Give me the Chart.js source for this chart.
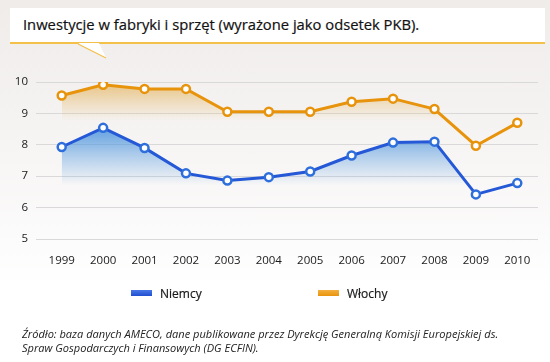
<!DOCTYPE html>
<html>
<head>
<meta charset="utf-8">
<script src="https://cdn.jsdelivr.net/npm/chart.js@4.4.1/dist/chart.umd.min.js"></script>
<style>
    html, body { margin: 0; padding: 0; }
    body {
        width: 550px; height: 362px; position: relative; overflow: hidden;
        background: linear-gradient(to bottom, #efecea 0px, #f5f3f2 120px, #ffffff 290px);
        font-family: "Open Sans", sans-serif; color: #222;
    }
    #titleBox {
        position: absolute; left: 10px; top: 8px; width: 535px; height: 34px;
        background: #fff; border-bottom: 2px solid #f3c14a; box-sizing: content-box;
    }
    #titleBox span {
        position: absolute; left: 13px; top: 6px; font-size: 14.75px; color: #111;
        -webkit-text-stroke: 0.2px #111;
    }
    #pointer { position: absolute; left: 0; top: 0; }
    #chartWrap { position: absolute; left: 0; top: 0; width: 550px; height: 362px; }
    .legendItem { position: absolute; top: 285px; font-size: 12px; color: #1a1a1a; }
    .legendItem i { position: absolute; top: 5px; left: 0; width: 21px; height: 6px; }
    .legendItem b { position: absolute; left: 29px; top: 0; font-weight: normal; white-space: nowrap; -webkit-text-stroke: 0.2px #1a1a1a; }
    #source {
        position: absolute; left: 22px; top: 327px; font-size: 11.05px; font-style: italic;
        line-height: 14px; color: #222;
    }
</style>
</head>
<body>
<div id="titleBox"><span>Inwestycje w fabryki i sprzęt (wyrażone jako odsetek PKB).</span></div>
<svg id="pointer" width="550" height="70">
    <polygon points="78,43 99,43 106,58" fill="#fff" />
    <line x1="78" y1="44" x2="106" y2="58" stroke="#f3c14a" stroke-width="1.2" />
</svg>
<div id="chartWrap"><canvas id="investChart"></canvas></div>
<div id="legend"></div>
<div id="source">Źródło: baza danych AMECO, dane publikowane przez Dyrekcję Generalną Komisji Europejskiej ds.<br>Spraw Gospodarczych i Finansowych (DG ECFIN).</div>

<script>
const years = ['1999', '2000', '2001', '2002', '2003', '2004', '2005', '2006', '2007', '2008', '2009', '2010'];
const germany = [7.93, 8.54, 7.90, 7.09, 6.86, 6.97, 7.15, 7.66, 8.07, 8.10, 6.42, 6.78];
const italy = [9.57, 9.91, 9.78, 9.78, 9.05, 9.05, 9.05, 9.37, 9.47, 9.14, 7.97, 8.70];
const seriesNames = ['Niemcy', 'Włochy'];
const yTicks = [5, 6, 7, 8, 9, 10];

const blue = '#2458d6';
const orange = '#e8930c';

// gradient fill below a line, fading out between two values
function fadeFill(topVal, bottomVal, rgb, alpha) {
    return function(context) {
        const chart = context.chart;
        const y = chart.scales.y;
        if (!y || !chart.chartArea) return 'transparent';
        const g = chart.ctx.createLinearGradient(0, y.getPixelForValue(topVal), 0, y.getPixelForValue(bottomVal));
        g.addColorStop(0, 'rgba(' + rgb + ',' + alpha + ')');
        g.addColorStop(0.5, 'rgba(' + rgb + ',' + (alpha * 0.45) + ')');
        g.addColorStop(1, 'rgba(' + rgb + ',0)');
        return g;
    };
}

const ctx = document.getElementById('investChart');
new Chart(ctx, {
    type: 'line',
    data: {
        labels: years,
        datasets: [{
            label: seriesNames[1],
            data: italy,
            borderColor: orange,
            borderWidth: 3,
            pointRadius: 4,
            pointBorderWidth: 2.5,
            pointBackgroundColor: '#fff',
            pointBorderColor: orange,
            tension: 0,
            fill: 'start',
            backgroundColor: fadeFill(9.9, 8.75, '226,170,70', 0.6)
        }, {
            label: seriesNames[0],
            data: germany,
            borderColor: blue,
            borderWidth: 3,
            pointRadius: 4,
            pointBorderWidth: 2.5,
            pointBackgroundColor: '#fff',
            pointBorderColor: '#2f6fdc',
            tension: 0,
            fill: 'start',
            backgroundColor: fadeFill(8.5, 6.7, '75,148,222', 0.85)
        }]
    },
    options: {
        responsive: true,
        maintainAspectRatio: false,
        animation: false,
        layout: { padding: { top: 82, right: 12, bottom: 93, left: 0 } },
        scales: {
            x: {
                offset: true,
                grid: { display: false, drawTicks: false },
                border: { display: false },
                ticks: { padding: 15, color: '#1a1a1a', font: { family: 'Open Sans', size: 11.5 } },
                afterFit: function(scale) { scale.height = 30; }
            },
            y: {
                min: yTicks[0],
                max: yTicks[yTicks.length - 1],
                afterBuildTicks: function(scale) { scale.ticks = yTicks.map(v => ({ value: v })); },
                grid: { color: '#d9d9d9', lineWidth: 1, drawTicks: true, tickLength: 5 },
                border: { display: false },
                ticks: { padding: 8, color: '#1a1a1a', font: { family: 'Open Sans', size: 11.5 } },
                afterFit: function(scale) { scale.width = 41; }
            }
        },
        plugins: {
            legend: { display: false },
            tooltip: { enabled: false }
        }
    }
});

// legend built from the series names
const legendEl = document.getElementById('legend');
const legendSpots = [{ left: 131, color: 'linear-gradient(#4a78e8,#1f4fd0)' }, { left: 318, color: 'linear-gradient(#f5b040,#e8930c)' }];
seriesNames.forEach(function(name, i) {
    const item = document.createElement('div');
    item.className = 'legendItem';
    item.style.left = legendSpots[i].left + 'px';
    item.innerHTML = '<i style="background:' + legendSpots[i].color + '"></i><b>' + name + '</b>';
    legendEl.appendChild(item);
});
</script>
</body>
</html>
